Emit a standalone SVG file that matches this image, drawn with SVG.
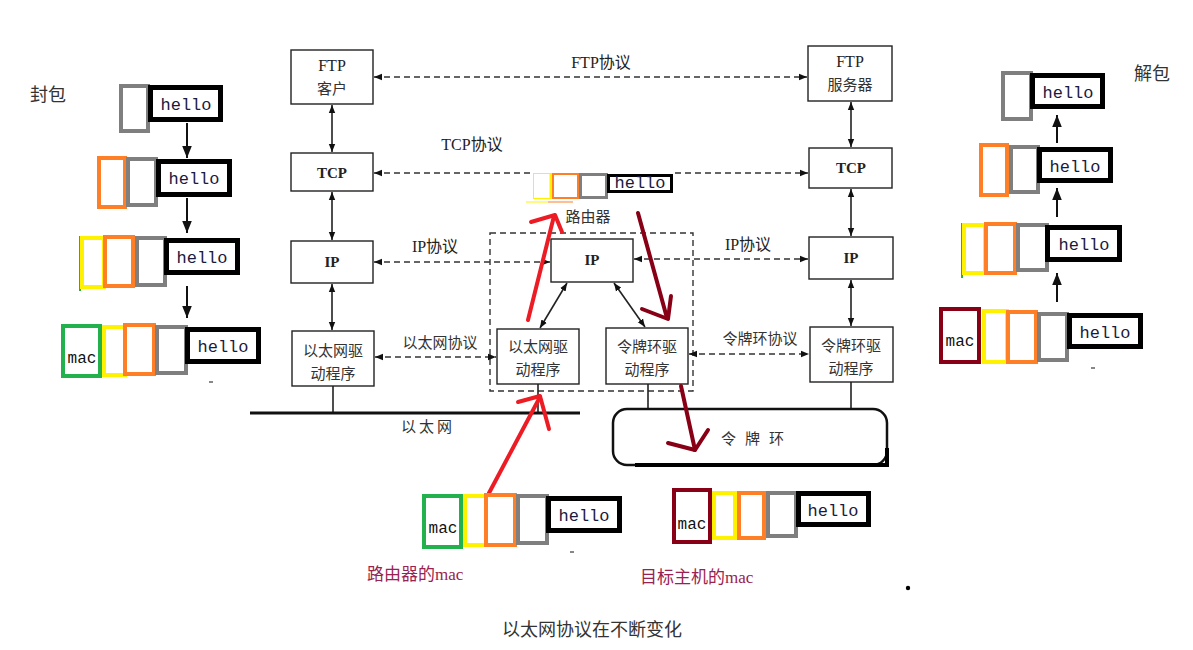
<svg xmlns="http://www.w3.org/2000/svg" width="1193" height="650" viewBox="0 0 1193 650">
<style>
.bx{fill:#fff;stroke:#222;stroke-width:1.4}
.t{font-family:"Liberation Serif","Noto Sans CJK SC",serif;font-size:16px;fill:#222;text-anchor:middle}
.tb{font-family:"Liberation Serif",serif;font-size:15px;font-weight:bold;fill:#222;text-anchor:middle}
.cn{font-family:"Noto Sans CJK SC",sans-serif;font-size:15px;fill:#333;text-anchor:middle}
.dash{fill:none;stroke:#333;stroke-width:1.4;stroke-dasharray:6 4}
.sol{fill:none;stroke:#222;stroke-width:1.6}
.p{fill:#fff;stroke-width:4}
.g{stroke:#7f7f7f}.o{stroke:#ff7f27}.y{stroke:#fff200}.gr{stroke:#22b14c}.m{stroke:#880015}
.h{fill:#fff;stroke:#000;stroke-width:5}
.ht{font-family:"Liberation Mono",monospace;font-size:17px;fill:#1a1a40;text-anchor:middle}
.mac{font-family:"Liberation Mono",monospace;font-size:16px;fill:#111;text-anchor:middle}
.ar{stroke:#111;stroke-width:2;fill:none}
.red{stroke:#ed1c24;stroke-width:4;fill:none;stroke-linecap:round;stroke-linejoin:round}
.dr{stroke:#880015;stroke-width:4;fill:none;stroke-linecap:round;stroke-linejoin:round}
.lbl{font-family:"Noto Sans CJK SC",sans-serif;font-size:18px;fill:#333}
.rl{font-family:"Liberation Serif","Noto Sans CJK SC",serif;font-size:17px;fill:#9a2250}
</style>
<defs>
<marker id="ah" viewBox="0 0 10 10" refX="10" refY="5" markerWidth="8" markerHeight="8" markerUnits="userSpaceOnUse" orient="auto-start-reverse"><path d="M0,1 L10,5 L0,9 Z" fill="#111"/></marker>
<marker id="ab" viewBox="0 0 10 10" refX="10" refY="5" markerWidth="12" markerHeight="12" markerUnits="userSpaceOnUse" orient="auto"><path d="M0,1 L10,5 L0,9 Z" fill="#111"/></marker>
</defs>
<rect width="1193" height="650" fill="#fff"/>

<!-- router dashed frame -->
<g id="router-frame"><rect x="490" y="233" width="203" height="158" class="dash"/><text x="588" y="222" class="cn" font-size="16">路由器</text></g>

<!-- connectors -->
<g id="connectors">
<line x1="374" y1="77" x2="807" y2="77" class="dash" marker-start="url(#ah)" marker-end="url(#ah)"/>
<line x1="374" y1="173" x2="532" y2="173" class="dash" marker-start="url(#ah)"/>
<line x1="675" y1="173" x2="808" y2="173" class="dash" marker-end="url(#ah)"/>
<line x1="374" y1="262" x2="550" y2="262" class="dash" marker-start="url(#ah)" marker-end="url(#ah)"/>
<line x1="634" y1="259" x2="808" y2="259" class="dash" marker-start="url(#ah)" marker-end="url(#ah)"/>
<line x1="375" y1="357" x2="496" y2="357" class="dash" marker-start="url(#ah)" marker-end="url(#ah)"/>
<line x1="689" y1="354" x2="809" y2="354" class="dash" marker-start="url(#ah)" marker-end="url(#ah)"/>
<line x1="332" y1="105" x2="332" y2="152" class="sol" marker-start="url(#ah)" marker-end="url(#ah)"/>
<line x1="332" y1="192" x2="332" y2="240" class="sol" marker-start="url(#ah)" marker-end="url(#ah)"/>
<line x1="332" y1="284" x2="332" y2="330" class="sol" marker-start="url(#ah)" marker-end="url(#ah)"/>
<line x1="851" y1="102" x2="851" y2="147" class="sol" marker-start="url(#ah)" marker-end="url(#ah)"/>
<line x1="851" y1="189" x2="851" y2="236" class="sol" marker-start="url(#ah)" marker-end="url(#ah)"/>
<line x1="851" y1="280" x2="851" y2="326" class="sol" marker-start="url(#ah)" marker-end="url(#ah)"/>
<line x1="567" y1="283" x2="540" y2="328" class="sol" stroke-width="1.3" marker-start="url(#ah)" marker-end="url(#ah)"/>
<line x1="614" y1="283" x2="645" y2="327" class="sol" stroke-width="1.3" marker-start="url(#ah)" marker-end="url(#ah)"/>
<line x1="333" y1="386" x2="333" y2="413" class="sol" stroke-width="1.2"/>
<line x1="538" y1="384" x2="538" y2="413" class="sol" stroke-width="1.2"/>
<line x1="648" y1="384" x2="648" y2="409" class="sol" stroke-width="1.2"/>
<line x1="851" y1="382" x2="851" y2="409" class="sol" stroke-width="1.2"/>
<text x="601" y="68" class="t" font-size="15">FTP协议</text>
<text x="472" y="150" class="t" font-size="15">TCP协议</text>
<text x="435" y="252" class="t" font-size="15">IP协议</text>
<text x="748" y="250" class="t" font-size="15">IP协议</text>
<text x="440" y="348" class="cn">以太网协议</text>
<text x="760" y="344" class="cn">令牌环协议</text>
</g>

<!-- ethernet bus -->
<g id="ethernet"><line x1="250" y1="413" x2="580" y2="413" stroke="#111" stroke-width="3"/><text x="428" y="432" class="cn" letter-spacing="3">以太网</text></g>
<!-- token ring -->
<g id="token-ring"><rect x="613" y="409" width="274" height="56" rx="14" fill="none" stroke="#111" stroke-width="2.5"/><line x1="635" y1="465" x2="889" y2="465" stroke="#000" stroke-width="4"/><line x1="887" y1="448" x2="887" y2="466" stroke="#000" stroke-width="4"/><text x="757" y="444" class="cn" letter-spacing="9">令牌环</text></g>

<!-- nodes -->
<g id="ftp-client"><rect x="291" y="50" width="82" height="54" class="bx"/><text x="332" y="71" class="t">FTP</text><text x="332" y="94" class="cn" font-size="16">客户</text></g>
<g id="tcp-left"><rect x="291" y="153" width="82" height="38" class="bx"/><text x="332" y="178" class="tb">TCP</text></g>
<g id="ip-left"><rect x="291" y="241" width="82" height="42" class="bx"/><text x="332" y="267" class="tb">IP</text></g>
<g id="eth-left"><rect x="292" y="331" width="82" height="55" class="bx"/><text x="333" y="356" class="cn" font-size="16">以太网驱</text><text x="333" y="379" class="cn" font-size="16">动程序</text></g>
<g id="ftp-server"><rect x="808" y="46" width="84" height="55" class="bx"/><text x="850" y="67" class="t">FTP</text><text x="850" y="90" class="cn" font-size="16">服务器</text></g>
<g id="tcp-right"><rect x="809" y="148" width="83" height="40" class="bx"/><text x="851" y="173" class="tb">TCP</text></g>
<g id="ip-right"><rect x="809" y="237" width="84" height="42" class="bx"/><text x="851" y="263" class="tb">IP</text></g>
<g id="tr-right"><rect x="810" y="327" width="83" height="55" class="bx"/><text x="851" y="351" class="cn" font-size="16">令牌环驱</text><text x="851" y="374" class="cn" font-size="16">动程序</text></g>
<g id="ip-router"><rect x="551" y="239" width="82" height="43" class="bx"/><text x="592" y="265" class="tb">IP</text></g>
<g id="eth-router"><rect x="497" y="329" width="82" height="55" class="bx"/><text x="538" y="352" class="cn" font-size="16">以太网驱</text><text x="538" y="375" class="cn" font-size="16">动程序</text></g>
<g id="tr-router"><rect x="606" y="328" width="82" height="56" class="bx"/><text x="647" y="352" class="cn" font-size="16">令牌环驱</text><text x="647" y="375" class="cn" font-size="16">动程序</text></g>

<!-- small packet on TCP line -->
<g id="packet-tcp">
<rect x="533.5" y="173.5" width="18" height="25" fill="#fff" stroke="#fff200" stroke-width="1"/>
<line x1="551" y1="173" x2="551" y2="199" stroke="#fff200" stroke-width="3"/>
<rect x="553" y="174" width="25" height="24" fill="#fff" stroke="#ff7f27" stroke-width="2"/>
<rect x="580.5" y="174.5" width="26" height="23" fill="#fff" stroke="#7f7f7f" stroke-width="3"/>
<rect x="608.5" y="175.5" width="63" height="16" fill="#fff" stroke="#000" stroke-width="3"/>
<text x="640" y="188" class="ht" font-size="11">hello</text>
<line x1="526" y1="202" x2="548" y2="202" stroke="#fff200" stroke-width="1"/>
<line x1="548" y1="202" x2="573" y2="202" stroke="#ff7f27" stroke-width="1"/>
</g>

<!-- red / dark red hand arrows -->
<g id="hand-arrows">
<polyline points="489,493 540,397" class="red"/>
<polyline points="518,402 540,396 549,429" class="red"/>
<polyline points="528,320 554,216" class="red"/>
<polyline points="531,222 555,215 562,232" class="red"/>
<polyline points="638,213 667,318" class="dr"/>
<polyline points="642,309 668,319 671,296" class="dr"/>
<polyline points="681,386 695,450" class="dr"/>
<polyline points="668,443 695,450 708,430" class="dr"/>
</g>

<!-- encapsulation stack -->
<g id="encap">
<text x="30" y="101" class="lbl" font-size="19">封包</text>
<rect x="121" y="86" width="27" height="45" class="p g"/>
<rect x="150.5" y="87.5" width="70" height="32" class="h"/><text x="186" y="110" class="ht">hello</text>
<line x1="187" y1="123" x2="187" y2="158" class="ar" marker-end="url(#ab)"/>
<rect x="99" y="158" width="26" height="49" class="p o"/>
<rect x="128" y="159" width="28" height="46" class="p g"/>
<rect x="158.5" y="161.5" width="71" height="33" class="h"/><text x="194" y="184" class="ht">hello</text>
<line x1="187" y1="198" x2="187" y2="233" class="ar" marker-end="url(#ab)"/>
<line x1="80" y1="236" x2="80" y2="291" stroke="#22b14c" stroke-width="2"/>
<rect x="82" y="238" width="22" height="49" class="p y"/>
<rect x="105" y="237" width="28" height="49" class="p o"/>
<rect x="137" y="238" width="28" height="47" class="p g"/>
<rect x="166.5" y="240.5" width="71" height="32" class="h"/><text x="202" y="263" class="ht">hello</text>
<line x1="187" y1="286" x2="187" y2="318" class="ar" marker-end="url(#ab)"/>
<rect x="63" y="326" width="37" height="50" class="p gr"/><text x="82" y="363" class="mac">mac</text>
<rect x="104" y="327" width="21" height="48" class="p y"/>
<rect x="125" y="325" width="29" height="49" class="p o"/>
<rect x="157" y="327" width="29" height="46" class="p g"/>
<rect x="187.5" y="329.5" width="71" height="32" class="h"/><text x="223" y="352" class="ht">hello</text>
<line x1="209" y1="382" x2="213" y2="382" stroke="#111" stroke-width="1"/>
</g>

<!-- decapsulation stack -->
<g id="decap">
<text x="1134" y="80" class="lbl">解包</text>
<rect x="1003" y="73" width="28" height="46" class="p g"/>
<rect x="1032.5" y="75.5" width="70" height="31" class="h"/><text x="1068" y="98" class="ht">hello</text>
<line x1="1057" y1="143" x2="1057" y2="115" class="ar" marker-end="url(#ab)"/>
<rect x="981" y="145" width="26" height="50" class="p o"/>
<rect x="1011" y="147" width="27" height="45" class="p g"/>
<rect x="1039.5" y="149.5" width="71" height="31" class="h"/><text x="1075" y="172" class="ht">hello</text>
<line x1="1057" y1="217" x2="1057" y2="188" class="ar" marker-end="url(#ab)"/>
<line x1="962" y1="223" x2="962" y2="278" stroke="#22b14c" stroke-width="2"/>
<rect x="964" y="225" width="21" height="48" class="p y"/>
<rect x="986" y="224" width="29" height="49" class="p o"/>
<rect x="1018" y="225" width="29" height="45" class="p g"/>
<rect x="1047.5" y="227.5" width="72" height="32" class="h"/><text x="1084" y="250" class="ht">hello</text>
<line x1="1057" y1="302" x2="1057" y2="273" class="ar" marker-end="url(#ab)"/>
<line x1="944" y1="357" x2="977" y2="357" stroke="#22b14c" stroke-width="1.5"/>
<rect x="941" y="309" width="38" height="53" class="p m"/><text x="960" y="346" class="mac">mac</text>
<rect x="984" y="311" width="23" height="51" class="p y"/>
<rect x="1008" y="312" width="28" height="50" class="p o"/>
<rect x="1039" y="314" width="28" height="46" class="p g"/>
<rect x="1069.5" y="315.5" width="71" height="31" class="h"/><text x="1105" y="338" class="ht">hello</text>
<line x1="1091" y1="368" x2="1095" y2="368" stroke="#111" stroke-width="1"/>
</g>

<!-- packet at router side -->
<g id="packet-router">
<rect x="424" y="496" width="37" height="51" class="p gr"/><text x="443" y="533" class="mac">mac</text>
<rect x="465" y="496" width="21" height="49" class="p y"/>
<rect x="486" y="495" width="29" height="50" class="p o"/>
<rect x="518" y="496" width="29" height="47" class="p g"/>
<rect x="548.5" y="498.5" width="71" height="32" class="h"/><text x="584" y="521" class="ht">hello</text>
<line x1="570" y1="552" x2="574" y2="552" stroke="#111" stroke-width="1"/>
<text x="367" y="580" class="rl">路由器的mac</text>
</g>

<!-- packet at target host -->
<g id="packet-target">
<line x1="677" y1="538" x2="707" y2="538" stroke="#22b14c" stroke-width="1.5"/>
<rect x="674" y="490" width="36" height="52" class="p m"/><text x="692" y="529" class="mac">mac</text>
<rect x="714" y="493" width="21" height="45" class="p y"/>
<rect x="739" y="493" width="25" height="45" class="p o"/>
<rect x="768" y="493" width="28" height="43" class="p g"/>
<rect x="798.5" y="493.5" width="70" height="31" class="h"/><text x="833" y="516" class="ht">hello</text>
<text x="640" y="583" class="rl">目标主机的mac</text>
<circle cx="908" cy="588" r="2.2" fill="#000"/>
</g>

<text x="502" y="636" class="lbl">以太网协议在不断变化</text>
</svg>
